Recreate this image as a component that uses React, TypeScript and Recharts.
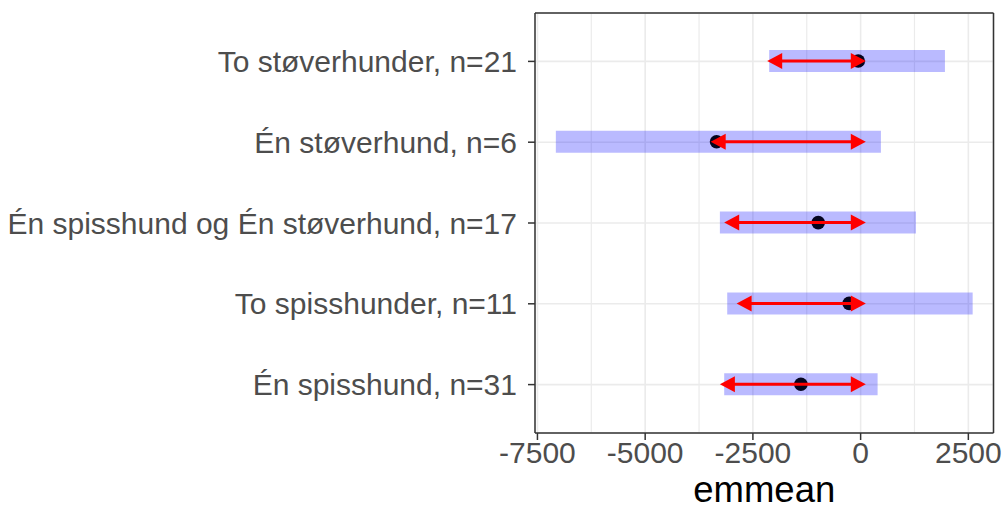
import React from "react";
import { ComposedChart, Bar, XAxis, YAxis, CartesianGrid } from "recharts";

// estimated marginal means per group
const groups = [
  "To støverhunder, n=21",
  "Én støverhund, n=6",
  "Én spisshund og Én støverhund, n=17",
  "To spisshunder, n=11",
  "Én spisshund, n=31",
];
const emmeans = [-55, -3343, -984, -265, -1386];
const lowerCL = [-2122, -7073, -3266, -3096, -3166];
const upperCL = [1957, 471, 1284, 2600, 394];
// comparison arrows
const arrowFrom = [-2168, -3480, -3166, -2878, -3266];
const arrowTo = [120, 120, 120, 120, 120];

const majorTicks = [-7500, -5000, -2500, 0, 2500];
const minorTicks = [-6250, -3750, -1250, 1250];

const FONT = '"Liberation Sans", Arial, sans-serif';
const BORDER = "#333333";
const GRID = "#EBEBEB";

const data = groups.map((name, i) => ({
  name,
  ci: [lowerCL[i], upperCL[i]],
  est: [emmeans[i], emmeans[i]],
  arrow: [arrowFrom[i], arrowTo[i]],
}));

// ggplot-style 5% expansion of the continuous axis
const lo = Math.min(...lowerCL, ...arrowFrom);
const hi = Math.max(...upperCL, ...arrowTo);
const pad = (hi - lo) * 0.05;
const xDomain: [number, number] = [lo - pad, hi + pad];

const DotShape = (props: any) => {
  const { x, y, height } = props;
  return <circle cx={x} cy={y + height / 2} r={6.8} fill="#05051f" />;
};

const ArrowShape = (props: any) => {
  const { x, y, width, height } = props;
  const cy = y + height / 2;
  const x1 = x;
  const x2 = x + width;
  const hl = 15;
  const hw = 8;
  return (
    <g>
      <line x1={x1 + 4} y1={cy} x2={x2 - 4} y2={cy} stroke="#FF0000" strokeWidth={3} />
      <polygon points={`${x1},${cy} ${x1 + hl},${cy - hw} ${x1 + hl},${cy + hw}`} fill="#FF0000" />
      <polygon points={`${x2},${cy} ${x2 - hl},${cy - hw} ${x2 - hl},${cy + hw}`} fill="#FF0000" />
    </g>
  );
};

export default function App() {
  return (
    <div style={{ position: "absolute", left: 0, top: 0, background: "#fff" }}>
      <ComposedChart
        width={1005}
        height={515}
        data={data}
        layout="vertical"
        margin={{ top: 12, right: 10.5, bottom: 0, left: 0 }}
        barGap={-22}
        style={{ fontFamily: FONT }}
      >
        <CartesianGrid horizontal={false} verticalValues={minorTicks} stroke={GRID} strokeWidth={1.2} />
        <CartesianGrid stroke={GRID} strokeWidth={1.6} />
        <XAxis
          type="number"
          domain={xDomain}
          ticks={majorTicks}
          height={82}
          tickSize={7}
          tickMargin={2}
          tick={{ fontSize: 30, fill: "#4D4D4D", fontFamily: FONT }}
          tickLine={{ stroke: BORDER, strokeWidth: 1.5 }}
          axisLine={{ stroke: BORDER, strokeWidth: 1.5 }}
          label={{
            value: "emmean",
            position: "insideBottom",
            offset: 13,
            fontSize: 36.5,
            fill: "#000",
            fontFamily: FONT,
          }}
        />
        <XAxis
          xAxisId="top"
          orientation="top"
          type="number"
          domain={xDomain}
          height={1}
          tick={false}
          tickLine={false}
          axisLine={{ stroke: BORDER, strokeWidth: 1.5 }}
        />
        <YAxis
          type="category"
          dataKey="name"
          width={535}
          padding={{ top: 8, bottom: 8 }}
          tickSize={7}
          tickMargin={11}
          tick={{ fontSize: 30, fill: "#4D4D4D", fontFamily: FONT }}
          tickLine={{ stroke: BORDER, strokeWidth: 1.5 }}
          axisLine={{ stroke: BORDER, strokeWidth: 1.5 }}
        />
        <YAxis
          yAxisId="right"
          orientation="right"
          type="category"
          dataKey="name"
          width={1}
          padding={{ top: 8, bottom: 8 }}
          tick={false}
          tickLine={false}
          axisLine={{ stroke: BORDER, strokeWidth: 1.5 }}
        />
        <Bar
          dataKey="ci"
          xAxisId="top"
          yAxisId="right"
          barSize={22}
          fill="#0000FF"
          fillOpacity={0.27}
          isAnimationActive={false}
        />
        <Bar dataKey="est" barSize={22} shape={DotShape} isAnimationActive={false} />
        <Bar dataKey="arrow" barSize={22} shape={ArrowShape} isAnimationActive={false} />
      </ComposedChart>
    </div>
  );
}
